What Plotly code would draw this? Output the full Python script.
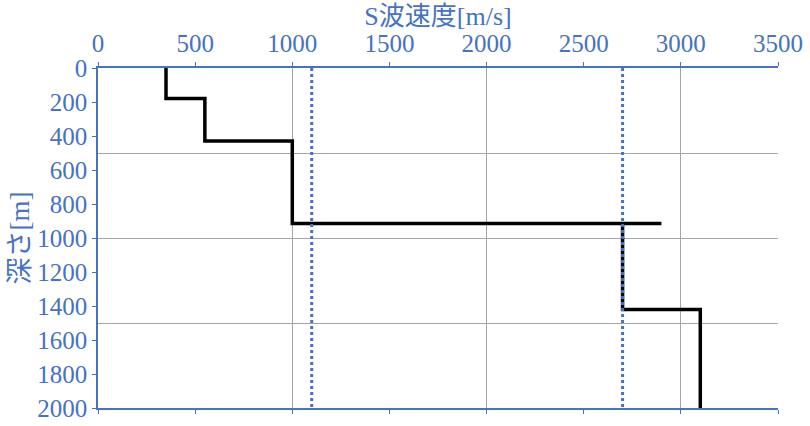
import plotly.graph_objects as go

# Velocity profile (step line)
vs_values = [350, 350, 550, 550, 1000, 1000, 2900, 2700, 2700, 3100, 3100]
depth_values = [0, 180, 180, 430, 430, 915, 915, 915, 1420, 1420, 2000]

# Reference vertical dotted lines
ref_vs = [1100, 2700]
ref_depth = [0, 2000]

BLUE = "#4472C4"
GRID = "#A6A6A6"
SERIF = "Liberation Serif, Times New Roman, serif"
JP = "Liberation Serif, Noto Sans CJK JP, serif"

fig = go.Figure()
fig.add_trace(go.Scatter(x=vs_values, y=depth_values, mode="lines",
                         line=dict(color="black", width=3.5), showlegend=False,
                         hoverinfo="skip"))
for v in ref_vs:
    fig.add_trace(go.Scatter(x=[v, v], y=ref_depth, mode="lines",
                             line=dict(color=BLUE, width=3, dash="3px,3px"),
                             showlegend=False, hoverinfo="skip"))
# invisible trace on overlay axes (for grid lines)
fig.add_trace(go.Scatter(x=[0], y=[0], xaxis="x2", yaxis="y2", mode="markers",
                         marker=dict(opacity=0), showlegend=False, hoverinfo="skip"))

fig.update_layout(
    width=810, height=426,
    margin=dict(l=98, r=32, t=68, b=18, autoexpand=False),
    paper_bgcolor="white", plot_bgcolor="white",
    title=dict(text="S波速度[m/s]", font=dict(family=JP, size=26, color=BLUE),
               xref="paper", x=0.5, xanchor="center",
               yref="container", y=0.963, yanchor="middle"),
    xaxis=dict(
        side="top", range=[0, 3500], dtick=500, tick0=0, automargin=False,
        showgrid=False, zeroline=False,
        showline=True, linecolor=BLUE, linewidth=1.5, mirror="ticks",
        ticks="outside", ticklen=4, tickcolor=BLUE, tickwidth=1,
        tickfont=dict(family=SERIF, size=25, color=BLUE),
    ),
    yaxis=dict(
        range=[2000, 0], dtick=200, tick0=0, automargin=False,
        showgrid=False, zeroline=False,
        showline=True, linecolor=BLUE, linewidth=1.5, mirror=False,
        ticks="outside", ticklen=4, tickcolor=BLUE, tickwidth=1,
        tickfont=dict(family=SERIF, size=25, color=BLUE),
        title=dict(text="深さ[m]", font=dict(family=JP, size=27, color=BLUE), standoff=0),
    ),
    xaxis2=dict(overlaying="x", side="top", range=[0, 3500], dtick=1000, tick0=0,
                automargin=False,
                showgrid=True, gridcolor=GRID, gridwidth=1, zeroline=False,
                showticklabels=False, showline=False, ticks=""),
    yaxis2=dict(overlaying="y", range=[2000, 0], dtick=500, tick0=0,
                automargin=False,
                showgrid=True, gridcolor=GRID, gridwidth=1, zeroline=False,
                showticklabels=False, showline=False, ticks=""),
)

fig.write_html("out.html", config={"displayModeBar": False},
               post_script="document.body.style.margin='0';")
